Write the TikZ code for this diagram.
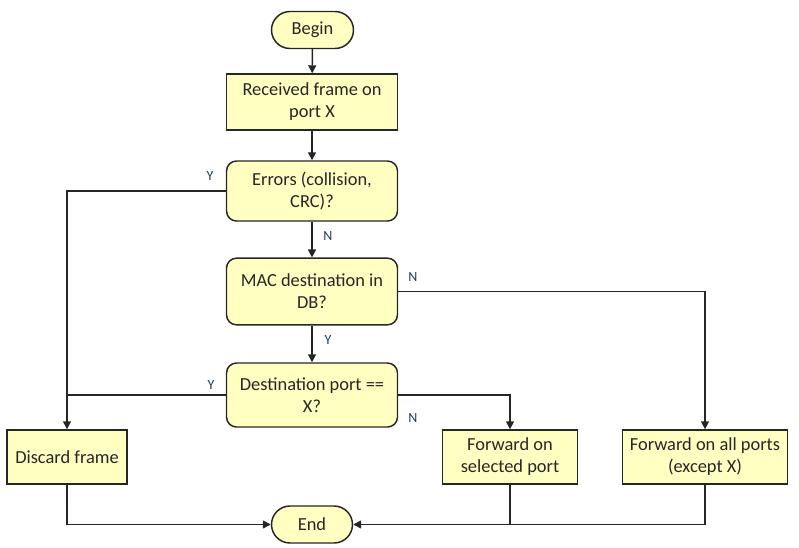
\documentclass[tikz,border=0pt]{standalone}
\usepackage{fontspec}
\setmainfont{Carlito}
\usetikzlibrary{arrows.meta,shapes.misc}
\definecolor{boxfill}{HTML}{FFFFC2}
\definecolor{lblcol}{HTML}{1F3A68}
\definecolor{linecol}{HTML}{262626}
\begin{document}
\begin{tikzpicture}[x=0.75pt,y=-0.75pt,
  base/.style={draw=linecol,line width=1.1pt,fill=boxfill,align=center,font=\fontsize{13.8}{16.5}\selectfont,text=black!85,inner sep=0pt},
  terminal/.style={base,rounded rectangle,minimum width=61.5pt,minimum height=27.75pt},
  procbox/.style={base,rectangle},
  decision/.style={base,rectangle,rounded corners=7.5pt,minimum width=128.25pt},
  conn/.style={draw=linecol,line width=1.1pt},
  arr/.style={conn,-{Triangle[width=6pt,length=6pt]}},
  lbl/.style={font=\fontsize{10.5}{12}\selectfont,text=lblcol,inner sep=0pt}]
\useasboundingbox (0,0) rectangle (799,547);
\node[terminal] (begin) at (312.5,30) {Begin};
\node[procbox,minimum width=128.25pt,minimum height=42pt] (recv) at (312,102) {Received frame on\\port X};
\node[decision,minimum height=45pt] (err) at (312,191) {Errors (collision,\\CRC)?};
\node[decision,minimum height=50pt] (mac) at (312,291.5) {MAC destination in\\DB?};
\node[decision,minimum height=48pt] (dst) at (312,395) {Destination port ==\\X?};
\node[procbox,minimum width=90pt,minimum height=40.5pt] (disc) at (67,457) {Discard frame};
\node[procbox,minimum width=101.25pt,minimum height=40.5pt] (fsel) at (510,457) {Forward on\\selected port};
\node[procbox,minimum width=123.75pt,minimum height=40.5pt] (fall) at (705,457) {Forward on all ports\\(except X)};
\node[terminal,minimum width=60.75pt] (end) at (312,524.5) {End};
\coordinate (jl) at (67,395);
\coordinate (bs) at (510,524.5);
\draw[arr] (begin) -- (recv);
\draw[arr] (recv) -- (err);
\draw[arr] (err.west) -| (disc.north);
\draw[conn] (dst.west) -- (jl);
\draw[arr] (err) -- (mac);
\draw[arr] (mac.east) -| (fall.north);
\draw[arr] (mac) -- (dst);
\draw[arr] (dst.east) -| (fsel.north);
\draw[arr] (disc.south) |- (end.west);
\draw[conn] (fsel.south) -- (bs);
\draw[arr] (fall.south) |- (end.east);
\node[lbl] (ly1) at (210,176) {Y};
\node[lbl] (ln1) at (328,236) {N};
\node[lbl] (ln2) at (413,277) {N};
\node[lbl] (ly2) at (328,340) {Y};
\node[lbl] (ly3) at (211,385) {Y};
\node[lbl] (ln3) at (413,418) {N};
\end{tikzpicture}
\end{document}
